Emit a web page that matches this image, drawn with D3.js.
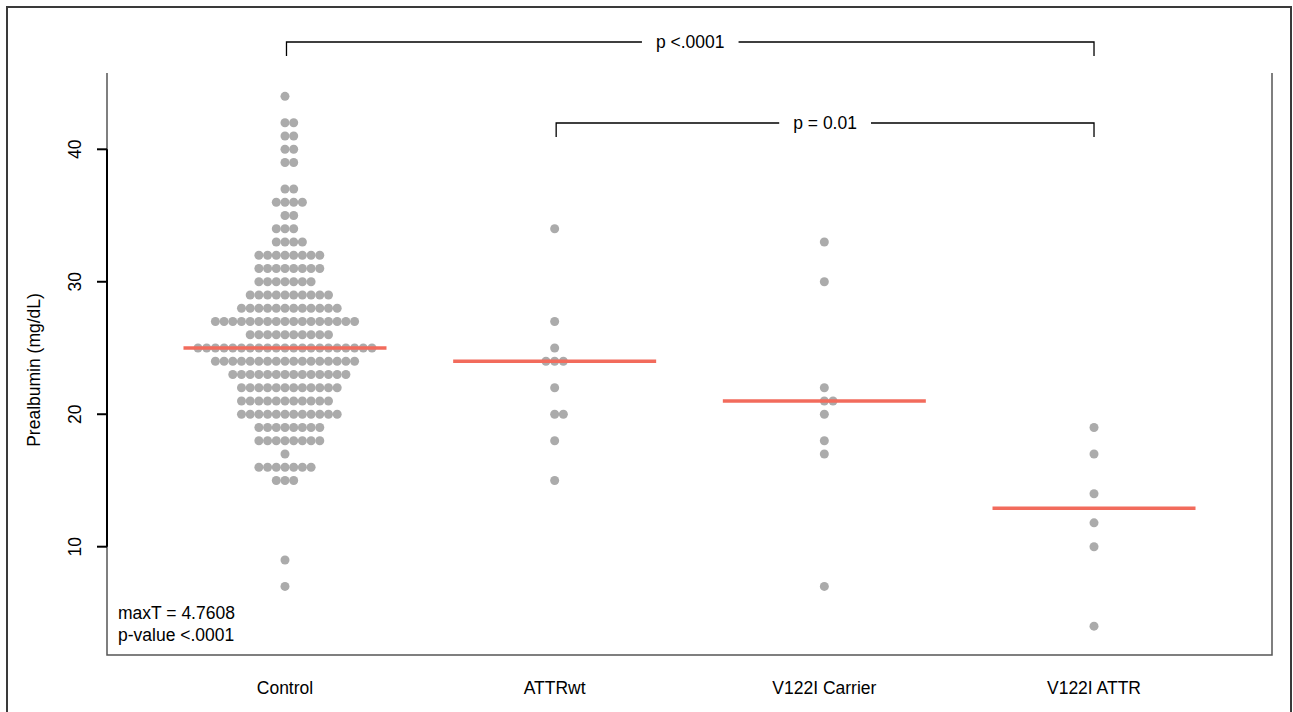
<!DOCTYPE html>
<html><head><meta charset="utf-8">
<script src="https://cdn.jsdelivr.net/npm/d3@7"></script>
<style>html,body{margin:0;padding:0;background:#fff;} text{font-family:"Liberation Sans",Arial,sans-serif;}</style>
</head><body><svg id="c" width="1293" height="712"></svg>
<script>
const categories = ["Control", "ATTRwt", "V122I Carrier", "V122I ATTR"];
const controlValues = [
  44, 42,42, 41,41, 40,40, 39,39, 37,37, 36,36,36,36, 35,35, 34,34,34, 33,33,33,33,
  32,32,32,32,32,32,32,32, 31,31,31,31,31,31,31,31, 30,30,30,30,30,30,30,
  29,29,29,29,29,29,29,29,29,29, 28,28,28,28,28,28,28,28,28,28,28,28,
  27,27,27,27,27,27,27,27,27,27,27,27,27,27,27,27,27, 26,26,26,26,26,26,26,26,26,26,
  25,25,25,25,25,25,25,25,25,25,25,25,25,25,25,25,25,25,25,25,25,
  24,24,24,24,24,24,24,24,24,24,24,24,24,24,24,24,24,
  23,23,23,23,23,23,23,23,23,23,23,23,23,23, 22,22,22,22,22,22,22,22,22,22,22,22,
  21,21,21,21,21,21,21,21,21,21,21, 20,20,20,20,20,20,20,20,20,20,20,20,
  19,19,19,19,19,19,19,19, 18,18,18,18,18,18,18,18, 17, 16,16,16,16,16,16,16, 15,15,15, 9, 7
];
const attrwtValues = [34, 27, 25, 24, 24, 24, 22, 20, 20, 18, 15];
const carrierValues = [33, 30, 22, 21, 21, 20, 18, 17, 7];
const attrValues = [19, 17, 14, 11.8, 10, 4];
const groupValues = [controlValues, attrwtValues, carrierValues, attrValues];
const yTicks = [10, 20, 30, 40];
const comparisons = [
  {from: "Control", to: "V122I ATTR", label: "p <.0001"},
  {from: "ATTRwt", to: "V122I ATTR", label: "p = 0.01"}
];
const statLines = ["maxT = 4.7608", "p-value <.0001"];
const yTitle = "Prealbumin (mg/dL)";

const svg = d3.select("#c");
const L = 107, R = 1272, T = 73, B = 655;
const FS = 17.5;
const x = d3.scalePoint().domain(categories).range([L, R]).padding(0.66);
const y = d3.scaleLinear().domain([10, 40]).range([546.7, 149.3]);
const dotStep = 8.7, dotR = 4.5;

svg.append("rect").attr("x", 7).attr("y", 7).attr("width", 1284).attr("height", 720)
  .attr("fill", "none").attr("stroke", "#3a3a3a").attr("stroke-width", 2);

svg.append("path").attr("d", `M${L},${T}V${B}H${R}V${T}`)
  .attr("fill", "none").attr("stroke", "#555").attr("stroke-width", 1.5);

const yAxis = svg.append("g");
yAxis.append("line").attr("x1", L).attr("x2", L).attr("y1", y(10)).attr("y2", y(40))
  .attr("stroke", "#000").attr("stroke-width", 2);
yTicks.forEach(t => {
  yAxis.append("line").attr("x1", L - 10).attr("x2", L).attr("y1", y(t)).attr("y2", y(t))
    .attr("stroke", "#000").attr("stroke-width", 2);
  yAxis.append("text").attr("transform", `translate(81,${y(t)}) rotate(-90)`)
    .attr("text-anchor", "middle").attr("font-size", FS).attr("fill", "#000").text(t);
});
svg.append("text").attr("transform", `translate(40,${(T + B) / 2 + 6}) rotate(-90)`)
  .attr("text-anchor", "middle").attr("font-size", FS).attr("fill", "#000").text(yTitle);

categories.forEach(c => {
  svg.append("text").attr("x", x(c)).attr("y", 694).attr("text-anchor", "middle")
    .attr("font-size", FS).attr("fill", "#000").text(c);
});

categories.forEach((c, gi) => {
  const rows = d3.group(groupValues[gi], v => v);
  rows.forEach((vals, v) => {
    vals.forEach((_, k) => {
      const off = k % 2 === 1 ? (k + 1) / 2 : -k / 2;
      svg.append("circle").attr("cx", x(c) + off * dotStep).attr("cy", y(v))
        .attr("r", dotR).attr("fill", "#ababab");
    });
  });
});

const halfW = 101.5;
categories.forEach((c, gi) => {
  const m = d3.median(groupValues[gi]);
  svg.append("line").attr("x1", x(c) - halfW).attr("x2", x(c) + halfW)
    .attr("y1", y(m)).attr("y2", y(m)).attr("stroke", "#f26b5c").attr("stroke-width", 3.5);
});

const bracketY = [42, 123];
comparisons.forEach((cmp, i) => {
  const x1 = x(cmp.from) + 1.5, x2 = x(cmp.to), by = bracketY[i];
  const mid = (x1 + x2) / 2;
  const g = svg.append("g");
  const txt = g.append("text").attr("x", mid).attr("y", by + 6).attr("text-anchor", "middle")
    .attr("font-size", FS).attr("fill", "#000").text(cmp.label);
  const w = txt.node().getComputedTextLength();
  const gap = w / 2 + 14;
  g.append("path").attr("d", `M${x1},${by + 14}V${by}H${mid - gap}M${mid + gap},${by}H${x2}V${by + 14}`)
    .attr("fill", "none").attr("stroke", "#000").attr("stroke-width", 1.3);
});

statLines.forEach((s, i) => {
  svg.append("text").attr("x", 118).attr("y", 619 + i * 22).attr("font-size", FS)
    .attr("fill", "#000").text(s);
});
</script></body></html>
